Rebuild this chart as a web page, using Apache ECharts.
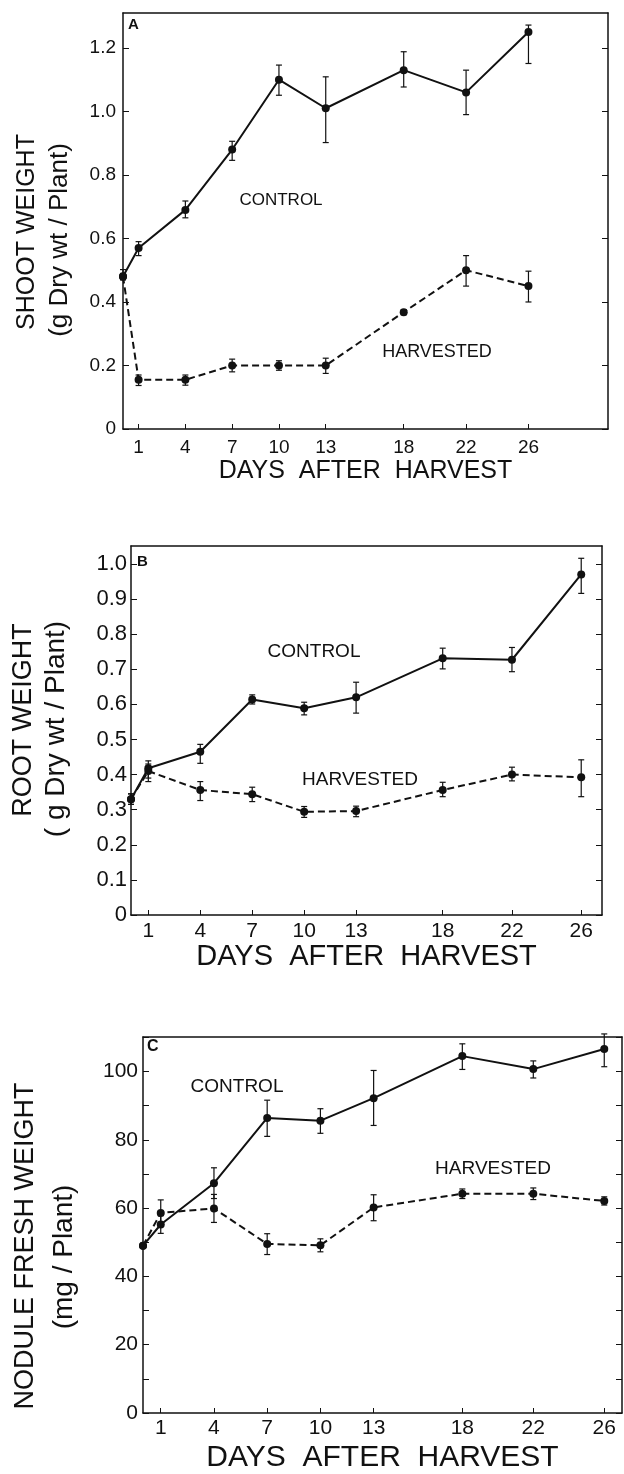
<!DOCTYPE html>
<html>
<head>
<meta charset="utf-8">
<script src="https://cdn.jsdelivr.net/npm/echarts@6/dist/echarts.min.js"></script>
<style>
  html, body { margin: 0; padding: 0; background: #fff; }
  #chart { width: 624px; height: 1474px; }
</style>
</head>
<body>
<div id="chart"></div>
<script>
// sampling days and labelled ticks on the day axis
var days = [0, 1, 4, 7, 10, 13, 18, 22, 26];
var dayTicks = [1, 4, 7, 10, 13, 18, 22, 26];

// A - shoot weight (g dry wt / plant)
var shootControl = [0.48, 0.57, 0.69, 0.88, 1.10, 1.01, 1.13, 1.06, 1.25];
var shootControlLo = [0.47, 0.546, 0.665, 0.846, 1.051, 0.902, 1.077, 0.99, 1.151];
var shootControlHi = [0.502, 0.59, 0.718, 0.906, 1.146, 1.109, 1.188, 1.13, 1.272];
var shootHarvested = [0.48, 0.155, 0.155, 0.20, 0.20, 0.20, 0.368, 0.50, 0.45];
var shootHarvestedLo = [0.47, 0.137, 0.138, 0.18, 0.185, 0.175, 0.36, 0.45, 0.40];
var shootHarvestedHi = [0.49, 0.17, 0.17, 0.22, 0.215, 0.223, 0.375, 0.546, 0.497];
var shootTicks = [0, 0.2, 0.4, 0.6, 0.8, 1.0, 1.2];

// B - root weight (g dry wt / plant)
var rootControl = [0.33, 0.418, 0.465, 0.614, 0.589, 0.62, 0.731, 0.727, 0.97];
var rootControlLo = [0.315, 0.38, 0.432, 0.601, 0.57, 0.575, 0.701, 0.693, 0.916];
var rootControlHi = [0.345, 0.439, 0.486, 0.627, 0.606, 0.663, 0.76, 0.762, 1.016];
var rootHarvested = [0.33, 0.41, 0.356, 0.344, 0.294, 0.296, 0.356, 0.40, 0.392];
var rootHarvestedLo = [0.315, 0.39, 0.326, 0.323, 0.278, 0.28, 0.337, 0.382, 0.337];
var rootHarvestedHi = [0.345, 0.43, 0.38, 0.364, 0.309, 0.31, 0.378, 0.421, 0.442];
var rootTicks = [0, 0.1, 0.2, 0.3, 0.4, 0.5, 0.6, 0.7, 0.8, 0.9, 1.0];

// C - nodule fresh weight (mg / plant)
var noduleControl = [49, 55.2, 67.3, 86.4, 85.6, 92.2, 104.5, 100.7, 106.6];
var noduleControlLo = [49, 52.6, 62.8, 81.0, 81.9, 84.2, 100.6, 98.1, 101.4];
var noduleControlHi = [49, 57.8, 71.8, 91.6, 89.1, 100.3, 108.1, 103.1, 111];
var noduleHarvested = [49, 58.6, 59.9, 49.5, 49.1, 60.2, 64.2, 64.2, 62.1];
var noduleHarvestedLo = [49, 54.8, 55.8, 46.4, 47.2, 56.3, 62.8, 62.5, 60.9];
var noduleHarvestedHi = [49, 62.4, 64.0, 52.5, 51.0, 63.9, 65.6, 65.9, 63.3];
var noduleTicks = [0, 10, 20, 30, 40, 50, 60, 70, 80, 90, 100, 110];
var noduleLabels = [0, 20, 40, 60, 80, 100];

var FONT = "'Liberation Sans', Arial, sans-serif";
var INK = '#111';

function pairs(ys) {
    return days.map(function (d, i) { return [d, ys[i]]; });
}
function bars(lo, hi) {
    return days.map(function (d, i) { return [d, lo[i], hi[i]]; });
}

function errorBar(params, api) {
    var x = api.value(0);
    var lo = api.coord([x, api.value(1)]);
    var hi = api.coord([x, api.value(2)]);
    var w = 3;
    var st = { stroke: INK, lineWidth: 1.2 };
    return {
        type: 'group',
        children: [
            { type: 'line', shape: { x1: lo[0], y1: lo[1], x2: hi[0], y2: hi[1] }, style: st },
            { type: 'line', shape: { x1: lo[0] - w, y1: lo[1], x2: lo[0] + w, y2: lo[1] }, style: st },
            { type: 'line', shape: { x1: hi[0] - w, y1: hi[1], x2: hi[0] + w, y2: hi[1] }, style: st }
        ]
    };
}

var grids = [], xAxes = [], yAxes = [], series = [];

function addPanel(p) {
    var gi = grids.length;
    grids.push({ left: p.left, top: p.top, width: p.width, height: p.height });
    var line = { show: true, onZero: false, lineStyle: { color: INK, width: 1.5 } };
    xAxes.push({
        gridIndex: gi, type: 'value', min: 0, max: p.xMax, position: 'bottom',
        axisLine: line,
        axisTick: { show: true, inside: true, length: 5, customValues: dayTicks, lineStyle: { color: INK } },
        axisLabel: { customValues: dayTicks, color: INK, fontFamily: FONT, fontSize: p.xFont, margin: p.xMargin },
        splitLine: { show: false },
        name: 'DAYS  AFTER  HARVEST', nameLocation: 'middle', nameGap: p.nameGap,
        nameTextStyle: { color: INK, fontFamily: FONT, fontSize: p.nameFont }
    });
    xAxes.push({
        gridIndex: gi, type: 'value', min: 0, max: p.xMax, position: 'top',
        axisLine: line, axisTick: { show: false }, axisLabel: { show: false }, splitLine: { show: false }
    });
    yAxes.push({
        gridIndex: gi, type: 'value', min: 0, max: p.yMax, position: 'left',
        axisLine: line,
        axisTick: { show: true, inside: true, length: 6, customValues: p.yTicks, lineStyle: { color: INK } },
        axisLabel: { customValues: p.yLabels, formatter: p.yFmt, color: INK, fontFamily: FONT, fontSize: p.yFont, margin: p.yMargin },
        splitLine: { show: false }
    });
    yAxes.push({
        gridIndex: gi, type: 'value', min: 0, max: p.yMax, position: 'right',
        axisLine: line,
        axisTick: { show: true, inside: true, length: 6, customValues: p.yTicks, lineStyle: { color: INK } },
        axisLabel: { show: false }, splitLine: { show: false }
    });
    var xi = gi * 2, yi = gi * 2;
    var mark = { color: INK };
    series.push({
        type: 'custom', xAxisIndex: xi, yAxisIndex: yi, renderItem: errorBar,
        encode: { x: 0, y: [1, 2] }, data: bars(p.cLo, p.cHi), z: 3
    });
    series.push({
        type: 'custom', xAxisIndex: xi, yAxisIndex: yi, renderItem: errorBar,
        encode: { x: 0, y: [1, 2] }, data: bars(p.hLo, p.hHi), z: 3
    });
    series.push({
        type: 'line', xAxisIndex: xi, yAxisIndex: yi, data: pairs(p.control),
        symbol: 'circle', symbolSize: 8, itemStyle: mark,
        lineStyle: { color: INK, width: 2 }, z: 4
    });
    series.push({
        type: 'line', xAxisIndex: xi, yAxisIndex: yi, data: pairs(p.harvested),
        symbol: 'circle', symbolSize: 8, itemStyle: mark,
        lineStyle: { color: INK, width: 2, type: [7, 4] }, z: 4
    });
}

function dec(v) { return v === 0 ? '0' : v.toFixed(1); }
function whole(v) { return String(Math.round(v)); }

addPanel({
    left: 123, top: 13, width: 485, height: 416, xMax: 31.1, yMax: 1.31,
    yTicks: shootTicks, yLabels: shootTicks, yFmt: dec,
    xFont: 19, xMargin: 9, yFont: 19, yMargin: 7, nameFont: 25, nameGap: 30,
    control: shootControl, cLo: shootControlLo, cHi: shootControlHi,
    harvested: shootHarvested, hLo: shootHarvestedLo, hHi: shootHarvestedHi
});
addPanel({
    left: 131, top: 546, width: 471, height: 369, xMax: 27.2, yMax: 1.051,
    yTicks: rootTicks, yLabels: rootTicks, yFmt: dec,
    xFont: 21, xMargin: 6, yFont: 22, yMargin: 4, nameFont: 29, nameGap: 24,
    control: rootControl, cLo: rootControlLo, cHi: rootControlHi,
    harvested: rootHarvested, hLo: rootHarvestedLo, hHi: rootHarvestedHi
});
addPanel({
    left: 143, top: 1037, width: 479, height: 381, xMax: 27.0, yMax: 110.1,
    yTicks: noduleTicks, yLabels: noduleLabels, yFmt: whole,
    xFont: 21, xMargin: 5, yFont: 21, yMargin: 5, nameFont: 30, nameGap: 30,
    control: noduleControl, cLo: noduleControlLo, cHi: noduleControlHi,
    harvested: noduleHarvested, hLo: noduleHarvestedLo, hHi: noduleHarvestedHi
});

function txt(x, y, s, size, opts) {
    opts = opts || {};
    return {
        type: 'text', x: x, y: y, rotation: opts.rot || 0, z: 10,
        style: {
            text: s, fill: INK, font: (opts.bold ? 'bold ' : '') + size + 'px ' + FONT,
            textAlign: opts.align || 'center', textVerticalAlign: 'middle'
        }
    };
}
var R = Math.PI / 2;

var chart = echarts.init(document.getElementById('chart'));
chart.setOption({
    animation: false,
    backgroundColor: '#fff',
    grid: grids,
    xAxis: xAxes,
    yAxis: yAxes,
    series: series,
    graphic: [
        txt(128, 25, 'A', 15, { bold: true, align: 'left' }),
        txt(281, 200, 'CONTROL', 17),
        txt(437, 352, 'HARVESTED', 18),
        txt(27, 232, 'SHOOT WEIGHT', 25, { rot: R }),
        txt(60, 240, '(g Dry wt / Plant)', 26, { rot: R }),

        txt(137, 562, 'B', 15, { bold: true, align: 'left' }),
        txt(314, 652, 'CONTROL', 19),
        txt(360, 780, 'HARVESTED', 19),
        txt(24, 720, 'ROOT WEIGHT', 27, { rot: R }),
        txt(56, 729, '( g Dry wt / Plant)', 28, { rot: R }),

        txt(147, 1047, 'C', 16, { bold: true, align: 'left' }),
        txt(237, 1087, 'CONTROL', 19),
        txt(493, 1169, 'HARVESTED', 19),
        txt(26, 1246, 'NODULE FRESH WEIGHT', 27, { rot: R }),
        txt(64, 1257, '(mg / Plant)', 28, { rot: R })
    ]
});
</script>
</body>
</html>
